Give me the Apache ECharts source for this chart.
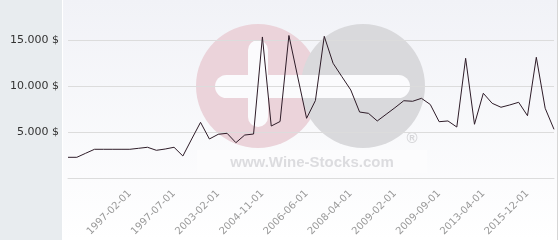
<!DOCTYPE html>
<html><head><meta charset="utf-8">
<script src="https://cdn.jsdelivr.net/npm/echarts@6/dist/echarts.min.js"></script>
<style>html,body{margin:0;padding:0;background:#fff}#c{width:560px;height:240px}</style>
</head><body><div id="c"></div>
<script>
const categories = [
  '1996-07-01','1996-08-01','1996-09-01','1996-10-01','1996-11-01','1996-12-01','1997-01-01',
  '1997-02-01','1997-03-01','1997-04-01','1997-05-01','1997-06-01','1997-07-01',
  '1998-09-01','2000-05-01','2001-06-01','2002-04-01','2003-02-01',
  '2003-07-01','2003-11-01','2004-03-01','2004-07-01','2004-11-01',
  '2005-03-01','2005-07-01','2005-10-01','2006-02-01','2006-06-01',
  '2006-10-01','2007-02-01','2007-05-01','2007-09-01','2008-04-01',
  '2008-06-01','2008-08-01','2008-10-01','2008-12-01','2009-02-01',
  '2009-03-01','2009-05-01','2009-06-01','2009-08-01','2009-09-01',
  '2010-06-01','2011-03-01','2011-11-01','2012-07-01','2013-04-01',
  '2013-11-01','2014-05-01','2014-11-01','2015-06-01','2015-12-01',
  '2016-07-01','2017-02-01','2017-09-01'
];
const prices = [
  2250,2250,2690,3120,3120,3120,3120,
  3120,3230,3340,3010,3150,3340,
  2390,4240,6050,4240,4750,
  4860,3840,4670,4780,15330,
  5650,6140,15490,10980,6490,
  8420,15400,12470,11010,9570,
  7170,7030,6200,6920,7640,
  8400,8340,8660,7990,6120,
  6200,5540,13010,5840,9210,
  8120,7690,7940,8230,6770,
  13120,7580,5290
];
const tickLabels = ['1997-02-01','1997-07-01','2003-02-01','2004-11-01','2006-06-01',
  '2008-04-01','2009-02-01','2009-09-01','2013-04-01','2015-12-01'];
const yTicks = [0, 5000, 10000, 15000];

const chart = echarts.init(document.getElementById('c'), null, {renderer: 'canvas'});
function fmt(v) {
  if (v === 0) return '';
  return String(v).replace(/\B(?=(\d{3})+(?!\d))/g, '.') + ' $';
}
chart.setOption({
  animation: false,
  backgroundColor: 'transparent',
  graphic: [
    {type: 'rect', z: -20, shape: {x: 0, y: 0, width: 560, height: 240},
      style: {fill: new echarts.graphic.LinearGradient(0, 0, 0, 1, [
        {offset: 0, color: '#f1f2f7'}, {offset: 1, color: '#ffffff'}])}},
    {type: 'rect', z: -19, shape: {x: 0, y: 0, width: 62, height: 240}, style: {fill: '#e8ecef'}},
    {type: 'rect', z: -19, shape: {x: 62, y: 0, width: 1, height: 240}, style: {fill: '#ffffff'}},
    {type: 'rect', z: -19, shape: {x: 557, y: 0, width: 1, height: 240}, style: {fill: '#d6d6d6'}},
    {type: 'rect', z: -19, shape: {x: 558, y: 0, width: 2, height: 240}, style: {fill: '#ffffff'}},
    {type: 'circle', z: -15, shape: {cx: 258, cy: 86, r: 62}, style: {fill: '#ebd3da'}},
    {type: 'circle', z: -14, shape: {cx: 363, cy: 86, r: 62}, style: {fill: '#d9d9dc'}},
    {type: 'rect', z: -13, shape: {x: 215, y: 75, width: 195, height: 23, r: 11.5}, style: {fill: '#fbfbfd'}},
    {type: 'rect', z: -13, shape: {x: 248, y: 40, width: 20, height: 87, r: 10}, style: {fill: '#fbfbfd'}},
    {type: 'rect', z: -16, shape: {x: 197, y: 150, width: 230, height: 23}, style: {fill: '#fcfcfd'}},
    {type: 'text', z: -12, x: 312, y: 163, style: {text: 'www.Wine-Stocks.com', fill: '#dcdcdf',
      font: 'bold 15px "Liberation Sans", Arial, sans-serif', align: 'center', verticalAlign: 'middle'}},
    {type: 'text', z: -12, x: 412, y: 139, style: {text: '®', fill: '#d6d6d9',
      font: 'bold 15px "Liberation Sans", Arial, sans-serif', align: 'center', verticalAlign: 'middle'}}
  ],
  grid: {left: 68, right: 6, top: 40, bottom: 62, containLabel: false},
  xAxis: {
    type: 'category', data: categories, boundaryGap: false,
    axisLine: {show: true, lineStyle: {color: '#dcdcdc', width: 1}},
    axisTick: {show: false},
    axisLabel: {
      rotate: 45, margin: 14, fontSize: 10, color: '#999999', fontFamily: 'DejaVu Sans',
      interval: function (i, v) { return tickLabels.indexOf(v) >= 0; }
    },
    splitLine: {show: false}
  },
  yAxis: {
    type: 'value', min: yTicks[0], max: yTicks[yTicks.length - 1], interval: 5000,
    axisLine: {show: false}, axisTick: {show: false},
    axisLabel: {formatter: fmt, fontSize: 11, color: '#333333', fontFamily: 'DejaVu Sans', margin: 9},
    splitLine: {lineStyle: {color: '#dcdcdc', width: 1}}
  },
  series: [{
    type: 'line', data: prices, showSymbol: false, symbol: 'none', clip: false,
    lineStyle: {color: '#2e1c28', width: 1}, z: 5
  }]
});
</script></body></html>
